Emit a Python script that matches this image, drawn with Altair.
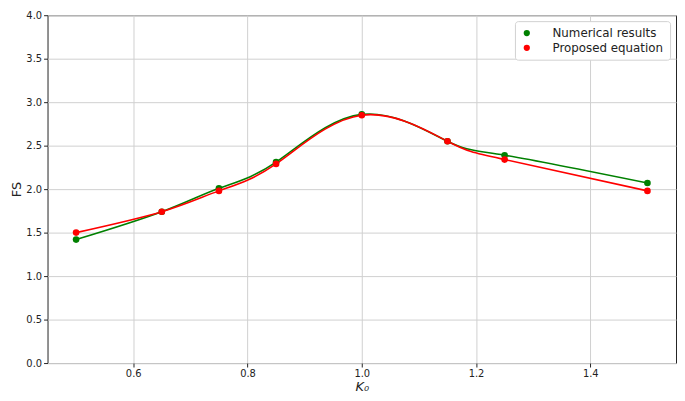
import altair as alt
import pandas as pd

k0 = [0.5, 0.65, 0.75, 0.85, 1.0, 1.15, 1.25, 1.5]
fs_numerical = [1.42, 1.74, 2.01, 2.31, 2.86, 2.55, 2.39, 2.07]
fs_proposed = [1.50, 1.74, 1.98, 2.29, 2.85, 2.55, 2.34, 1.98]
series = ["Numerical results", "Proposed equation"]
colors = ["#008000", "#ff0000"]
x_ticks = [0.6, 0.8, 1.0, 1.2, 1.4]
y_ticks = [0.0, 0.5, 1.0, 1.5, 2.0, 2.5, 3.0, 3.5, 4.0]

rows = []
for i, x in enumerate(k0):
    rows.append({"K0": x, "FS": fs_numerical[i], "series": series[0], "ord": 0})
for i, x in enumerate(k0):
    rows.append({"K0": x, "FS": fs_proposed[i], "series": series[1], "ord": 1})
df = pd.DataFrame(rows)

xenc = alt.X("K0:Q", title="K₀",
             scale=alt.Scale(domain=[0.45, 1.55], nice=False, zero=False),
             axis=alt.Axis(values=x_ticks, format=".1f", titleFontStyle="italic",
                           titleFontSize=13, titlePadding=2))
yenc = alt.Y("FS:Q", title="FS",
             scale=alt.Scale(domain=[0, 4], nice=False),
             axis=alt.Axis(values=y_ticks, format=".1f", titleFontSize=13,
                           titlePadding=2))
cscale = alt.Scale(domain=series, range=colors)
cenc = alt.Color("series:N", scale=cscale,
                 legend=alt.Legend(title=None, orient="top-right", offset=6,
                                   fillColor="white", strokeColor="#d0d0d0",
                                   padding=6, cornerRadius=3, labelFontSize=12,
                                   symbolSize=40, symbolType="circle",
                                   rowPadding=3, labelOffset=20))

base = alt.Chart(df)
line_green = base.transform_filter(alt.datum.ord == 0).mark_line(
    interpolate="natural", strokeWidth=1.6, color=colors[0]).encode(x=xenc, y=yenc)
line_red = base.transform_filter(alt.datum.ord == 1).mark_line(
    interpolate="natural", strokeWidth=1.6, color=colors[1]).encode(x=xenc, y=yenc)
points = base.mark_point(filled=True, opacity=1, size=45, shape="circle").encode(
    x=xenc, y=yenc, color=cenc, order="ord:Q"
)

chart = alt.layer(line_green, line_red, points).properties(
    width=636, height=352,
    autosize=alt.AutoSizeParams(type="none"),
    padding={"left": 40, "top": 5, "right": 1, "bottom": 28},
).configure_view(stroke="#222", strokeWidth=1).configure_axis(
    grid=True, gridColor="#cfcfcf", gridWidth=1,
    domain=False, tickColor="#222", tickSize=4,
    labelFont="DejaVu Sans", labelFontSize=10, labelColor="#222",
    titleFont="DejaVu Sans", titleColor="#222", titleFontWeight="normal",
    labelPadding=2,
).configure_legend(labelFont="DejaVu Sans", labelColor="#222")

chart.save("out.html", embed_options={"renderer": "svg", "actions": False})
